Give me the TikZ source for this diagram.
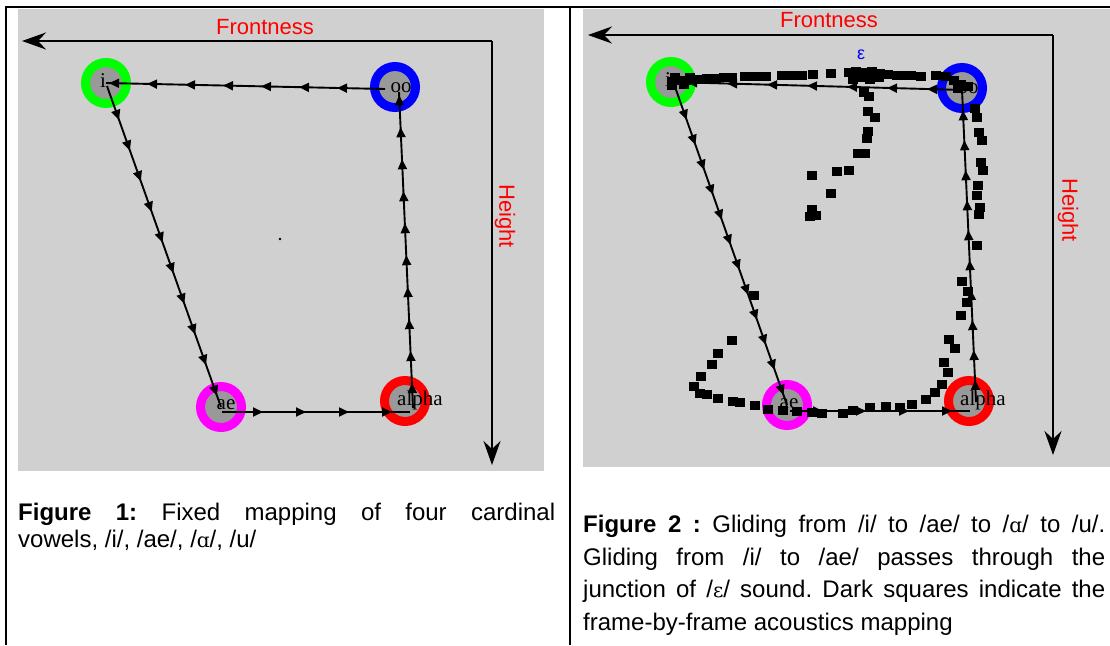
\documentclass[tikz,border=0pt]{standalone}
\usepackage{fontspec}
\setmainfont{Liberation Sans}
\newfontfamily\serifl{Liberation Serif}
\newfontfamily\ipaf{DejaVu Serif}
\usetikzlibrary{arrows.meta,decorations.markings}
\definecolor{panelgray}{RGB}{208,208,208}
\definecolor{ringgray}{RGB}{153,153,153}
\definecolor{ringgreen}{RGB}{0,255,0}
\definecolor{ringblue}{RGB}{0,0,255}
\definecolor{ringmag}{RGB}{255,0,255}
\definecolor{ringred}{RGB}{255,0,0}
\frenchspacing
\tikzset{
  panel/.style={fill=panelgray, draw=none},
  ring/.style={circle, draw=#1, line width=9pt, fill=ringgray, minimum size=41pt, inner sep=0pt},
  vlabel/.style={font=\serifl\fontsize{21}{21}\selectfont, inner sep=0pt},
  axislabel/.style={text=ringred, font=\fontsize{22}{22}\selectfont, inner sep=0pt},
  axisline/.style={line width=2.5pt, -{Stealth[length=24pt,width=17pt,inset=8pt]}},
  chainline/.style 2 args={line width=1.9pt, postaction={decorate},
    decoration={markings, mark=between positions #1 and 1 step #2 with {\arrow{Triangle[length=10pt,width=9pt]}}}},
  frameline/.style={line width=2pt},
  capline/.style={font=\fontsize{24}{27}\selectfont, inner sep=0pt, anchor=base west},
}
\begin{document}
\begin{tikzpicture}[x=1pt,y=-1pt]
\useasboundingbox (0,0) rectangle (1110,645);
\fill[white] (0,0) rectangle (1110,645);
% panels
\fill[panel] (18,9) rectangle (544,471);
\fill[panel] (583,9) rectangle (1110,467);
% frame
\draw[frameline] (5,7) -- (1110,7);
\draw[frameline] (6,7) -- (6,645);
\draw[frameline] (570,7) -- (570,645);

% ---------- left panel ----------
\coordinate (Lc) at (492,41);
\coordinate (Lx) at (22,41);
\coordinate (Ly) at (492,465);
\draw[axisline] (Lc) -- (Lx);
\draw[axisline] (Lc) -- (Ly);
\node[axislabel] (Lfront) at (265,27) {Frontness};
\node[axislabel, rotate=-90] (Lheight) at (505,216) {Height};

\node[ring=ringgreen] (Li) at (106,83) {};
\node[ring=ringblue] (Lu) at (395,87) {};
\node[ring=ringmag] (Lae) at (221,407) {};
\node[ring=ringred] (La) at (405,401) {};

\node[vlabel] (Lit) at (103,81) {i};
\node[vlabel] (Lut) at (401,88) {oo};
\node[vlabel] (Laet) at (226,405) {ae};
\node[vlabel, anchor=west] (Lat) at (397,400) {alpha};

\draw[chainline={48pt}{38pt}] ([shift={(-10,2)}]Lu.center) -- (Li.center);
\draw[chainline={36pt}{32.5pt}] ([shift={(1,3)}]Li.center) -- (Lae.center);
\draw[chainline={41pt}{43pt}] ([shift={(1,5)}]Lae.center) -- ([shift={(5,11)}]La.center);
\draw[chainline={25pt}{32pt}] ([shift={(8,7)}]La.center) -- ([shift={(4,5)}]Lu.center);
\fill (280,239) circle (1.3);

% ---------- right panel ----------
\coordinate (Rc) at (1053,35);
\coordinate (Rx) at (588,35);
\coordinate (Ry) at (1053,455);
\draw[axisline] (Rc) -- (Rx);
\draw[axisline] (Rc) -- (Ry);
\node[axislabel] (Rfront) at (829,20) {Frontness};
\node[axislabel, rotate=-90] (Rheight) at (1068,210) {Height};

\node[ring=ringgreen] (Ri) at (671,82) {};
\node[ring=ringblue] (Ru) at (962,88) {};
\node[ring=ringmag] (Rae) at (787,405) {};
\node[ring=ringred] (Ra) at (969,401) {};

\node[vlabel] (Rit) at (668,80) {i};
\node[vlabel] (Rut) at (968,89) {oo};
\node[vlabel] (Raet) at (789,404) {ae};
\node[vlabel, anchor=west] (Rat) at (960,400) {alpha};
\node[text=ringblue, font=\fontsize{18}{18}\selectfont, inner sep=0pt] (eps) at (861,55) {ε};

\draw[chainline={36pt}{40pt}] ([shift={(1,2)}]Ru.center) -- (Ri.center);
\draw[chainline={38pt}{26.5pt}] ([shift={(3,2)}]Ri.center) -- (Rae.center);
\draw[chainline={33pt}{43pt}] ([shift={(3,6)}]Rae.center) -- ([shift={(1,10)}]Ra.center);
\draw[chainline={22pt}{30pt}] ([shift={(7,1)}]Ra.center) -- ([shift={(0,2)}]Ru.center);

% frame-by-frame squares
\foreach \x/\y in {
 672/81,679/80,686/80,693/79,700/79,707/78,675/77,690/77,672/85,684/84,
 716/78,724/77,732/77,745/76,752/76,760/76,766/76,782/75,792/75,802/75,813/74,831/73,
 849/72,856/71,864/72,872/71,880/73,888/74,853/79,861/77,870/79,879/77,
 897/75,904/75,911/75,921/76,936/75,946/76,954/80,961/84,968/86,958/88,
 864/92,869/96,868/111,875/117,868/131,867/138,858/153,865/153,837/171,849/170,
 812/175,831/193,812/209,816/215,810/216,
 975/108,977/117,979/132,982/140,981/162,983/170,978/185,977/195,980/207,979/214,
 977/245,962/281,968/291,967/302,961/315,949/339,955/348,944/362,948/372,942/384,
 935/392,926/399,912/404,900/407,
 754/295,732/340,718/353,712/364,701/376,694/386,700/393,707/394,718/398,733/401,
 740/402,755/405,768/409,783/410,797/411,812/412,822/413,843/413,853/410,870/407,886/406}
 \fill (\x-5,\y-4.5) rectangle ++(10,9);

% ---------- captions ----------
\node[capline] (cap1a) at (18,520) {\makebox[537pt][s]{\textbf{Figure 1:} Fixed mapping of four cardinal}};
\node[capline] (cap1b) at (18,547) {vowels, /i/, /ae/, /{\ipaf\fontsize{20}{20}\selectfont ɑ}/, /u/};
\node[capline] (cap2a) at (583,532) {\makebox[522pt][s]{\textbf{Figure 2 :} Gliding from /i/ to /ae/ to /{\ipaf\fontsize{20}{20}\selectfont ɑ}/ to /u/.}};
\node[capline] (cap2b) at (583,565) {\makebox[522pt][s]{Gliding from /i/ to /ae/ passes through the}};
\node[capline] (cap2c) at (583,597) {\makebox[522pt][s]{junction of /{\ipaf\fontsize{20}{20}\selectfont ɛ}/ sound. Dark squares indicate the}};
\node[capline] (cap2d) at (583,630) {frame-by-frame acoustics mapping};
\end{tikzpicture}
\end{document}
